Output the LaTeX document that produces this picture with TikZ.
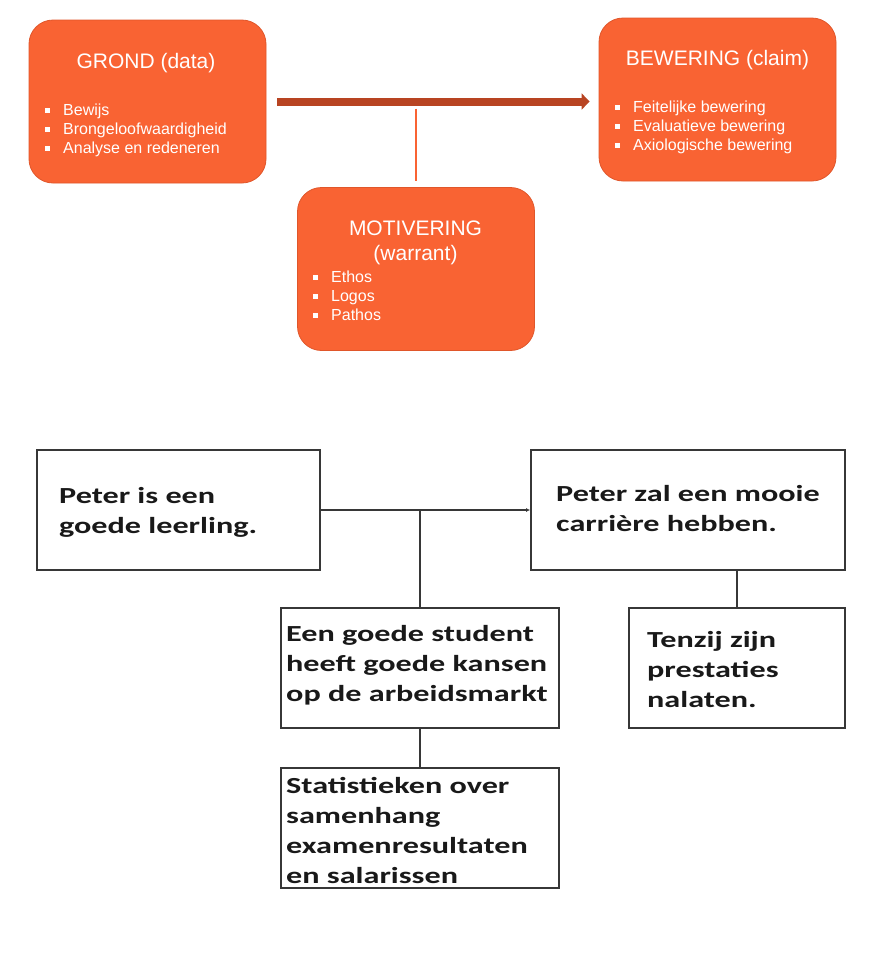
\documentclass[tikz,border=0pt]{standalone}
\usepackage{fontspec}
\setmainfont{Liberation Sans}
\newfontfamily\calibri[FakeStretch=1.4]{Carlito}
\usetikzlibrary{arrows.meta,positioning}
\tikzset{>=latex}

\definecolor{toporange}{RGB}{249,99,51}
\definecolor{topedge}{RGB}{224,86,42}
\definecolor{arrowbrown}{RGB}{184,68,34}
\definecolor{boxline}{RGB}{55,55,55}

\newcommand{\sqbullet}{\makebox[18pt][l]{\rule[2.5pt]{5pt}{5pt}}}

\begin{document}
\begin{tikzpicture}[x=1pt,y=-1pt,
	orangebox/.style={draw=topedge, line width=0.8pt, fill=toporange, rounded corners=24pt, minimum width=237pt, minimum height=163pt, inner sep=0pt},
	toptitle/.style={text=white, font=\fontsize{21}{25}\selectfont, align=center, inner sep=0pt, anchor=base},
	topitem/.style={text=white, font=\fontsize{16}{19}\selectfont, anchor=base west, inner sep=0pt},
	bigarrow/.style={draw=arrowbrown, line width=8pt, -{Triangle[length=8pt,width=16pt]}},
	warrantline/.style={draw=toporange, line width=2pt},
	claimbox/.style={draw=boxline, line width=1.8pt, minimum height=120pt, inner sep=0pt},
	claimtext/.style={font=\calibri\bfseries\fontsize{23}{30}\selectfont, text=black!90, align=left, anchor=base west, inner sep=0pt},
	link/.style={draw=boxline, line width=1.6pt}]

\useasboundingbox (0,0) rectangle (872,975);

% Toulmin scheme
\node[orangebox] (grond) at (147.5,101.5){};
\node[orangebox] (bewering) at (717.5,99.5){};
\node[orangebox] (motiv) at (416,269){};

\node[toptitle] (grondtitle) at (146,68) {GROND (data)};
\node[toptitle] (beweringtitle) at (717.5,65) {BEWERING (claim)};
\node[toptitle] (motivtitle) at (415.5,260) {MOTIVERING\\(warrant)};

\foreach \t [count=\i] in {Bewijs, Brongeloofwaardigheid, Analyse en redeneren}{
	\node[topitem] (grond-\i) at (45,96+19*\i) {\sqbullet\t};
}
\foreach \t [count=\i] in {Feitelijke bewering, Evaluatieve bewering, Axiologische bewering}{
	\node[topitem] (bewering-\i) at (615,93+19*\i) {\sqbullet\t};
}
\foreach \t [count=\i] in {Ethos, Logos, Pathos}{
	\node[topitem] (motiv-\i) at (313,263+19*\i) {\sqbullet\t};
}

\draw[bigarrow, shorten <=11pt, shorten >=9pt] (grond.east) -- (grond.east -| bewering.west);
\draw[warrantline, shorten <=7pt, shorten >=6pt] (grond.east -| motiv.north) -- (motiv.north);

% Example (base = last line)
\node[claimbox, minimum width=283pt] (leerling) at (178.5,510){};
\node[claimbox, minimum width=314pt] (carriere) at (688,510){};
\node[claimbox, minimum width=278pt] (student) at (420,668){};
\node[claimbox, minimum width=278pt] (statistiek) at (420,828){};
\node[claimbox, minimum width=216pt] (tenzij) at (737,668){};

\node[claimtext] (leerlingtext) at (59,533) {Peter is een\\goede leerling.};
\node[claimtext] (carrieretext) at (556,531) {Peter zal een mooie\\carrière hebben.};
\node[claimtext] (studenttext) at (286,701) {Een goede student\\heeft goede kansen\\op de arbeidsmarkt};
\node[claimtext] (statistiektext) at (286,883) {Statistieken over\\samenhang\\examenresultaten\\en salarissen};
\node[claimtext] (tenzijtext) at (647,707) {Tenzij zijn\\prestaties\\nalaten.};

\draw[link, -{Latex[length=4pt,width=4pt]}] (leerling.east) -- (carriere.west);
\draw[link] (leerling.east -| student.north) -- (student.north);
\draw[link] (student.south) -- (statistiek.north);
\draw[link] (carriere.south -| tenzij.north) -- (tenzij.north);

\end{tikzpicture}
\end{document}
